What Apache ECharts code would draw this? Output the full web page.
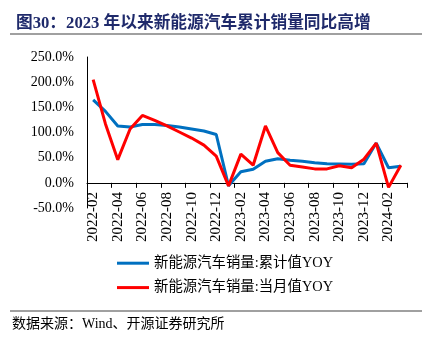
<!DOCTYPE html>
<html><head><meta charset="utf-8">
<script src="https://cdn.jsdelivr.net/npm/echarts@6/dist/echarts.min.js"></script>
<style>html,body{margin:0;padding:0;background:#fff;}#c{width:439px;height:345px;}</style>
</head><body><div id="c"></div>
<script>
var categories = ['2022-02','2022-03','2022-04','2022-05','2022-06','2022-07','2022-08','2022-09','2022-10','2022-11','2022-12',
  '2023-01','2023-02','2023-03','2023-04','2023-05','2023-06','2023-07','2023-08','2023-09','2023-10','2023-11','2023-12',
  '2024-01','2024-02','2024-03'];
var cumulativeYoy = [165,142,113,111,116,116,114,111,107,103,96,-6,22,27,43,48,45,43,40,38,37.6,37,37.9,79,30,33];
var monthlyYoy = [205,117,46,107,134,124,113,101,89,75,53,-6,57,35,113,60,35,31.6,27.7,27.7,34,30,47,79,-9,35];
var seriesNames = ['新能源汽车销量:累计值YOY','新能源汽车销量:当月值YOY'];
var titleText = '图30：2023 年以来新能源汽车累计销量同比高增';
var sourceText = '数据来源：Wind、开源证券研究所';

var serif = "'Liberation Serif','Times New Roman','Noto Sans CJK SC',serif";
var chart = echarts.init(document.getElementById('c'), null, {renderer:'canvas'});
chart.setOption({
  animation:false,
  backgroundColor:'#fff',
  title:{text:titleText,left:11,top:10,textStyle:{fontFamily:serif,fontSize:16.7,fontWeight:'bold',color:'#1f2a6b'}},
  graphic:[
    {type:'line',shape:{x1:10,y1:34,x2:422,y2:34},style:{stroke:'#808080',lineWidth:1.5}},
    {type:'line',shape:{x1:10,y1:311,x2:422,y2:311},style:{stroke:'#808080',lineWidth:1.5}},
    {type:'text',left:12,top:317,style:{text:sourceText,font:"14px "+serif,fill:'#000'}}
  ],
  grid:{left:87,right:32,top:57,bottom:137,containLabel:false},
  legend:{orient:'vertical',left:117,top:256,padding:0,itemWidth:32,itemHeight:3,itemGap:10,icon:'rect',
    textStyle:{fontFamily:serif,fontSize:14.4,color:'#000'},
    data:seriesNames},
  xAxis:{type:'category',data:categories,boundaryGap:true,
    axisLine:{onZero:true,lineStyle:{color:'#000',width:1}},
    axisTick:{show:true,interval:1,length:5,lineStyle:{color:'#000'}},
    axisLabel:{interval:1,rotate:90,margin:-16,fontFamily:serif,fontSize:15,color:'#000'},
    splitLine:{show:false}},
  yAxis:{type:'value',min:-50,max:250,interval:50,
    axisLine:{show:true,lineStyle:{color:'#000'}},
    axisTick:{show:false},
    splitLine:{show:false},
    axisLabel:{margin:13,fontFamily:serif,fontSize:14,color:'#000',formatter:function(v){return v.toFixed(1)+'%';}}},
  series:[
    {name:seriesNames[0],type:'line',data:cumulativeYoy,symbol:'none',lineStyle:{color:'#0070c0',width:3},itemStyle:{color:'#0070c0'},z:2},
    {name:seriesNames[1],type:'line',data:monthlyYoy,symbol:'none',lineStyle:{color:'#ff0000',width:3},itemStyle:{color:'#ff0000'},z:3}
  ]
});
</script></body></html>
